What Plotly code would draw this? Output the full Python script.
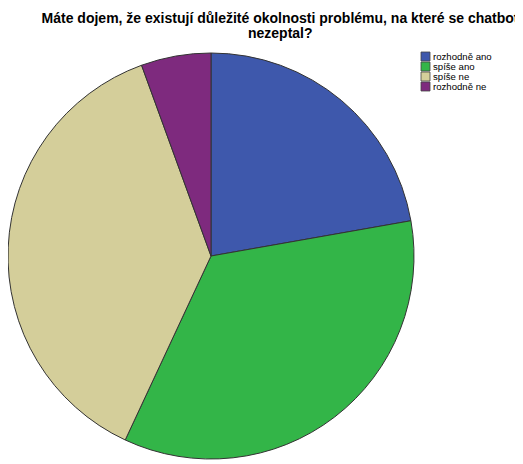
import plotly.graph_objects as go

categories = ["rozhodně ano", "spíše ano", "spíše ne", "rozhodně ne"]
counts = [16, 25, 27, 4]
colors = ["#3e58ac", "#33b548", "#d4ce9a", "#7e2a7e"]
title_lines = ["Máte dojem, že existují důležité okolnosti problému, na které se chatbot", "nezeptal?"]

# page body has an 8px margin; figure sized to fit the window
W, H = 515, 456

fig = go.Figure(go.Pie(
    labels=categories,
    values=counts,
    marker=dict(colors=colors, line=dict(color="#333333", width=1)),
    sort=False,
    direction="clockwise",
    rotation=0,
    textinfo="none",
    hoverinfo="label+value+percent",
    showlegend=False,
    domain=dict(x=[0 / W, 406 / W], y=[5 / H, 411 / H]),
))

# custom compact legend
lx0, ly0, step, sw = 413, 44, 10, 9
shapes, annotations = [], []
for i, (lab, col) in enumerate(zip(categories, colors)):
    y0 = ly0 + i * step
    shapes.append(dict(type="rect", xref="paper", yref="paper",
                       x0=lx0 / W, x1=(lx0 + sw) / W,
                       y0=1 - (y0 + sw) / H, y1=1 - y0 / H,
                       fillcolor=col, line=dict(color="#444444", width=0.8)))
    annotations.append(dict(xref="paper", yref="paper", x=(lx0 + sw + 1) / W,
                            y=1 - (y0 + sw / 2) / H, xanchor="left", yanchor="middle",
                            text=lab, showarrow=False,
                            font=dict(family="Liberation Sans, Arial", size=9.6, color="#000000")))

title_font = dict(family="Liberation Sans, Arial", size=14, color="#000000")
# second title line, placed tight under the first
annotations.append(dict(xref="paper", yref="paper", x=272 / W, y=1 - 25 / H,
                        xanchor="center", yanchor="middle", showarrow=False,
                        text="<b>" + title_lines[1] + "</b>", font=title_font))

fig.update_layout(
    width=W, height=H,
    margin=dict(l=0, r=0, t=0, b=0),
    paper_bgcolor="white", plot_bgcolor="white",
    title=dict(text="<b>" + title_lines[0] + "</b>",
               x=272 / W, xanchor="center", y=1 - 10 / H, yanchor="middle",
               font=title_font),
    shapes=shapes,
    annotations=annotations,
)

fig.write_html("out.html")
